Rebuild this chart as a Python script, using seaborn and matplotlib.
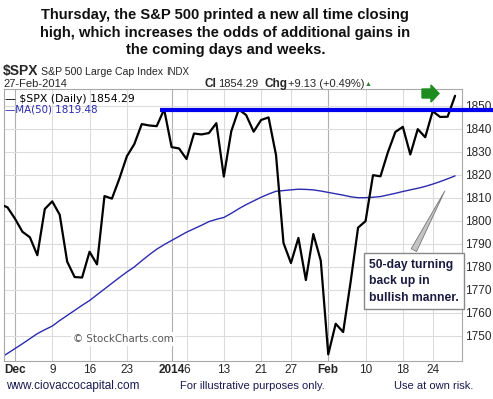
import numpy as np
import pandas as pd
import matplotlib
matplotlib.use("Agg")
import matplotlib.pyplot as plt
from matplotlib.patches import FancyArrow
import seaborn as sns

# trading days, 27-Nov-2013 .. 27-Feb-2014
dates = ["2013-11-27", "2013-11-29",
         "2013-12-02", "2013-12-03", "2013-12-04", "2013-12-05", "2013-12-06",
         "2013-12-09", "2013-12-10", "2013-12-11", "2013-12-12", "2013-12-13",
         "2013-12-16", "2013-12-17", "2013-12-18", "2013-12-19", "2013-12-20",
         "2013-12-23", "2013-12-24", "2013-12-26", "2013-12-27",
         "2013-12-30", "2013-12-31", "2014-01-02", "2014-01-03",
         "2014-01-06", "2014-01-07", "2014-01-08", "2014-01-09", "2014-01-10",
         "2014-01-13", "2014-01-14", "2014-01-15", "2014-01-16", "2014-01-17",
         "2014-01-21", "2014-01-22", "2014-01-23", "2014-01-24",
         "2014-01-27", "2014-01-28", "2014-01-29", "2014-01-30", "2014-01-31",
         "2014-02-03", "2014-02-04", "2014-02-05", "2014-02-06", "2014-02-07",
         "2014-02-10", "2014-02-11", "2014-02-12", "2014-02-13", "2014-02-14",
         "2014-02-18", "2014-02-19", "2014-02-20", "2014-02-21",
         "2014-02-24", "2014-02-25", "2014-02-26", "2014-02-27"]

spx = [1807.2, 1805.8,
       1800.9, 1795.2, 1792.8, 1785.0, 1805.1,
       1808.4, 1802.6, 1782.2, 1775.5, 1775.3,
       1786.5, 1781.0, 1810.7, 1809.6, 1818.3,
       1828.0, 1833.3, 1842.0, 1841.4,
       1841.1, 1848.4, 1832.0, 1831.4,
       1826.8, 1837.9, 1837.5, 1838.1, 1842.4,
       1819.2, 1838.9, 1848.4, 1845.9, 1838.7,
       1843.8, 1844.9, 1828.5, 1790.3,
       1781.6, 1792.5, 1774.2, 1794.2, 1782.6,
       1741.9, 1755.2, 1751.6, 1773.4, 1797.0,
       1799.8, 1819.8, 1819.3, 1829.8, 1838.6,
       1840.8, 1828.8, 1839.8, 1836.3,
       1847.6, 1845.1, 1845.2, 1854.29]

ma50 = [1740.3, 1742.3,
        1744.4, 1746.5, 1748.7, 1750.9, 1752.6,
        1754.2, 1756.6, 1758.8, 1761.0, 1763.2,
        1765.3, 1767.8, 1770.3, 1772.8, 1775.3,
        1777.7, 1779.9, 1782.6, 1785.2,
        1787.6, 1789.6, 1791.4, 1793.2,
        1795.0, 1796.5, 1798.0, 1799.6, 1800.6,
        1801.4, 1803.2, 1805.2, 1807.0, 1808.6,
        1810.2, 1811.6, 1812.8, 1813.1,
        1813.4, 1813.7, 1813.6, 1813.4, 1812.9,
        1812.3, 1811.7, 1811.1, 1810.4, 1810.0,
        1810.0, 1810.2, 1810.5, 1811.2, 1811.9,
        1812.7, 1813.4, 1814.1, 1814.9,
        1815.9, 1817.0, 1818.2, 1819.48]

resistance = 1848.1
resistance_from = "2013-12-31"

xtick_dates = ["2013-12-02", "2013-12-09", "2013-12-16", "2013-12-23", "2014-01-02",
               "2014-01-06", "2014-01-13", "2014-01-21", "2014-01-27", "2014-02-03",
               "2014-02-10", "2014-02-18", "2014-02-24"]
xtick_labels = ["Dec", "9", "16", "23", "2014", "6", "13", "21", "27", "Feb", "10", "18", "24"]
month_labels = ["Dec", "2014", "Feb"]
yticks = list(range(1750, 1851, 10))

df = pd.DataFrame({"date": dates, "spx": spx, "ma50": ma50})
df["day"] = np.arange(len(df)) - 1  # 27-Nov sits just left of the frame
pos = dict(zip(df["date"], df["day"]))

sns.set_style("white")
plt.rcParams["font.family"] = ["Liberation Sans", "DejaVu Sans"]

fig = plt.figure(figsize=(4.93, 3.99), dpi=100)
ax = fig.add_axes([0.0081, 0.0952, 0.929, 0.682])

grid_c = "#dcdcdc"
for d, lab in zip(xtick_dates, xtick_labels):
    ax.axvline(pos[d], color="#b0b0b0" if lab in month_labels else grid_c, lw=0.8, zorder=0)
for y in yticks:
    ax.axhline(y, color=grid_c, lw=0.8, zorder=0)

sns.lineplot(data=df, x="day", y="ma50", ax=ax, color="#2b2bb0", lw=1.0, zorder=2)
sns.lineplot(data=df, x="day", y="spx", ax=ax, color="black", lw=1.6, zorder=3)

ax.plot([pos[resistance_from] - 0.6, 66], [resistance, resistance], color="#0000ee",
        lw=3.0, solid_capstyle="butt", clip_on=False, zorder=4)

ax.set_xlim(-0.47, 60.93)
ax.set_ylim(1739.0, 1857.3)
ax.set_xlabel("")
ax.set_ylabel("")

ax.set_xticks([pos[d] for d in xtick_dates])
ax.set_xticklabels(xtick_labels, fontsize=8.5)
for t in ax.get_xticklabels():
    if t.get_text() in month_labels:
        t.set_fontweight("bold")
ax.yaxis.tick_right()
ax.set_yticks(yticks)
ax.set_yticklabels([str(v) for v in yticks], fontsize=8.5)
ax.tick_params(axis="both", length=0, pad=2)

for side in ["top", "left", "right", "bottom"]:
    ax.spines[side].set_color("#a8a8a8")
    ax.spines[side].set_linewidth(0.8)

# legend
ax.text(0.003, 0.983, "\u2014 $SPX (Daily) 1854.29", transform=ax.transAxes,
        fontsize=7.8, family="DejaVu Sans", va="top", color="black")
ax.text(0.003, 0.943, "\u2014MA(50) 1819.48", transform=ax.transAxes,
        fontsize=7.4, family="DejaVu Sans", va="top", color="#2b2bb0")

# watermark
ax.text(0.150, 0.082, "\u00a9 StockCharts.com", transform=ax.transAxes, fontsize=7.4,
        color="#555555", family="DejaVu Sans", va="center",
        bbox=dict(facecolor="white", edgecolor="none", pad=1.5))

# annotation box
ax.annotate("50-day turning\nback up in\nbullish manner.", xy=(58.8, 1814.0),
            xytext=(0.797, 0.294), textcoords="axes fraction",
            fontsize=8.7, fontweight="bold", color="#1a1a40", va="center", ha="left",
            linespacing=1.5,
            bbox=dict(boxstyle="square,pad=0.45", facecolor="white", edgecolor="#888888", lw=1.0),
            arrowprops=dict(arrowstyle="wedge,tail_width=0.5", facecolor="#c4c4c4",
                            edgecolor="#777777", lw=0.6, relpos=(0.45, 1.0)))

# green arrow above the last bars
fig.patches.append(FancyArrow(4.22, 3.055, 0.17, 0, width=0.09, head_width=0.17,
                              head_length=0.08, length_includes_head=True,
                              transform=fig.dpi_scale_trans, color="#1e8c1e"))

# header
fig.text(0.457, 0.979, "Thursday, the S&P 500 printed a new all time closing\n"
         "high, which increases the odds of additional gains in\nthe coming days and weeks.",
         ha="center", va="top", fontsize=10.6, fontweight="bold", linespacing=1.3, color="#111111")
fig.text(0.006, 0.812, "$SPX", fontsize=10, fontweight="bold", va="baseline")
fig.text(0.083, 0.812, "S&P 500 Large Cap Index", fontsize=7.6, va="baseline")
fig.text(0.337, 0.812, "INDX", fontsize=7, va="baseline")
fig.text(0.006, 0.782, "27-Feb-2014", fontsize=8, va="baseline")
fig.text(0.414, 0.782, "Cl", fontsize=8.5, fontweight="bold", va="baseline")
fig.text(0.442, 0.782, "1854.29", fontsize=8, va="baseline")
fig.text(0.537, 0.782, "Chg", fontsize=8.5, fontweight="bold", va="baseline")
fig.text(0.585, 0.782, "+9.13 (+0.49%)", fontsize=8, va="baseline")
fig.text(0.739, 0.785, "\u25b2", fontsize=5, color="#2e7d32", va="baseline")

# footer
fig.text(0.012, 0.025, "www.ciovaccocapital.com", fontsize=8.5, color="#1a1a50")
fig.text(0.365, 0.025, "For illustrative purposes only.", fontsize=8, color="#1a1a50")
fig.text(0.8, 0.025, "Use at own risk.", fontsize=8, color="#1a1a50")

fig.savefig("out.png", dpi=100)
